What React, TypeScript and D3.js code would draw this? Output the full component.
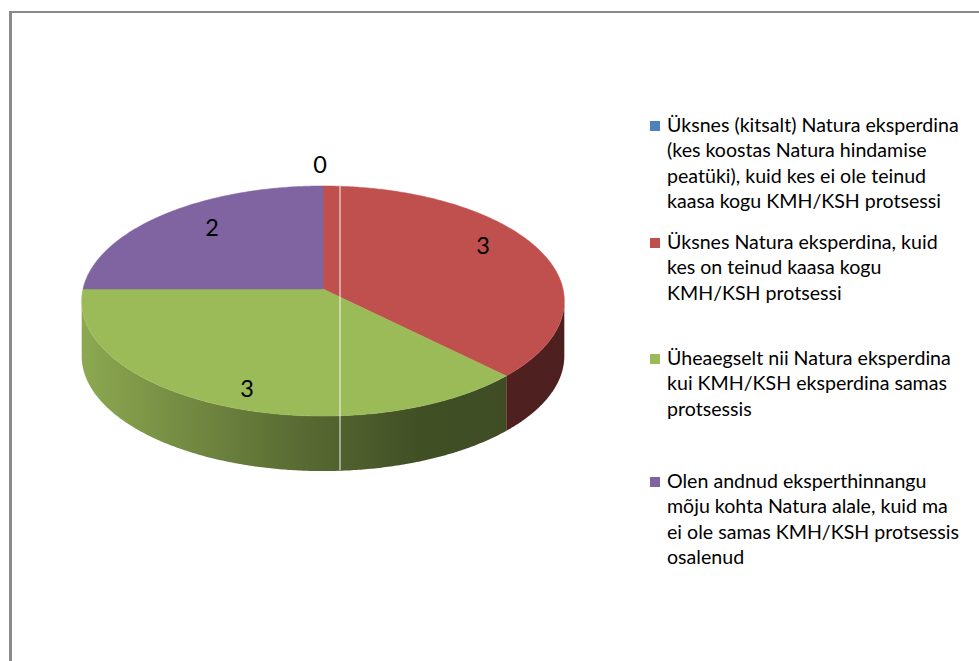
import React from "react";
import * as d3 from "d3";

const categories: string[][] = [
  ["Üksnes (kitsalt) Natura eksperdina", "(kes koostas Natura hindamise", "peatüki), kuid kes ei ole teinud", "kaasa kogu KMH/KSH protsessi"],
  ["Üksnes Natura eksperdina, kuid", "kes on teinud kaasa kogu", "KMH/KSH protsessi"],
  ["Üheaegselt nii Natura eksperdina", "kui KMH/KSH eksperdina samas", "protsessis"],
  ["Olen andnud eksperthinnangu", "mõju kohta Natura alale, kuid ma", "ei ole samas KMH/KSH protsessis", "osalenud"],
];
const values: number[] = [0, 3, 3, 2];
const colors: string[] = ["#4f81bd", "#c0504d", "#9bbb59", "#8064a2"];
const legendCenters: number[] = [126, 243, 359, 482];

const W = 979, H = 661;
const cx = 323, cy = 289, rx = 240, ry = 113.8, persp = 0.1044, depth = 55;
const FONT = "Lato, 'Open Sans', sans-serif";

function proj(theta: number): [number, number] {
  const u = Math.sin(theta), v = -Math.cos(theta);
  const k = 1 / (1 - persp * v);
  return [cx + rx * u * k, cy + ry * v * k];
}

function shade(c: string, f: number) {
  const r = d3.rgb(c);
  return d3.rgb(r.r * f, r.g * f, r.b * f).formatHex();
}

export default function App() {
  const pie = d3.pie<number>().sort(null).value((d) => d)(values);
  const line = d3.line<[number, number]>();
  const step = Math.PI / 360;
  const visA = Math.acos(-persp);
  const visB = 2 * Math.PI - Math.acos(-persp);

  const tops: { path: string; color: string }[] = [];
  const walls: { path: string; idx: number }[] = [];
  pie.forEach((arc, i) => {
    if (arc.endAngle - arc.startAngle <= 0) return;
    const pts: [number, number][] = [[cx, cy]];
    const n = Math.max(2, Math.ceil((arc.endAngle - arc.startAngle) / step));
    for (let j = 0; j <= n; j++) {
      const t = arc.startAngle + ((arc.endAngle - arc.startAngle) * j) / n;
      pts.push(proj(t));
    }
    tops.push({ path: line(pts) + "Z", color: colors[i] });
    const a0 = Math.max(arc.startAngle, visA), a1 = Math.min(arc.endAngle, visB);
    if (a1 > a0) {
      const m = Math.max(2, Math.ceil((a1 - a0) / step));
      const topArc: [number, number][] = [];
      for (let j = 0; j <= m; j++) topArc.push(proj(a0 + ((a1 - a0) * j) / m));
      const bot = topArc.map((p) => [p[0], p[1] + depth] as [number, number]).reverse();
      walls.push({ path: line(topArc.concat(bot)) + "Z", idx: i });
    }
  });

  const labelPos: { x: number; y: number; text: string }[] = [
    { x: 320, y: 164, text: String(values[0]) },
    { x: 483, y: 245, text: String(values[1]) },
    { x: 247, y: 388, text: String(values[2]) },
    { x: 212, y: 227, text: String(values[3]) },
  ];

  return (
    <svg width={W} height={H} style={{ position: "absolute", left: 0, top: 0, background: "#fff" }}>
      <defs>
        {colors.map((c, i) => (
          <linearGradient key={i} id={"g" + i} gradientUnits="userSpaceOnUse" x1={cx - rx} x2={cx + rx} y1={0} y2={0}>
            <stop offset="0" stopColor={shade(c, 0.9)} />
            <stop offset="0.41" stopColor={shade(c, 0.6)} />
            <stop offset="0.70" stopColor={shade(c, 0.42)} />
            <stop offset="1" stopColor={shade(c, 0.40)} />
          </linearGradient>
        ))}
      </defs>
      <rect x={0} y={0} width={W} height={H} fill="#fff" />
      <line x1={10} y1={12} x2={W} y2={12} stroke="#8a8a8a" strokeWidth={2} />
      <line x1={10.5} y1={11} x2={10.5} y2={H} stroke="#8a8a8a" strokeWidth={3} />
      {walls.map((w, i) => (
        <path key={"w" + i} d={w.path} fill={`url(#g${w.idx})`} />
      ))}
      {tops.map((t, i) => (
        <path key={"t" + i} d={t.path} fill={t.color} stroke={t.color} strokeWidth={0.5} />
      ))}
      <line x1={340} y1={186} x2={340} y2={470} stroke="#f4f4f4" strokeWidth={1} />
      {labelPos.map((l, i) => (
        <text key={"l" + i} x={l.x} y={l.y} fontFamily={FONT} fontSize={23.5} textAnchor="middle" dominantBaseline="central" fill="#000">
          {l.text}
        </text>
      ))}
      {categories.map((lines, i) => (
        <g key={"lg" + i}>
          <rect x={650} y={legendCenters[i] - 5} width={10} height={10} fill={colors[i]} />
          {lines.map((ln, j) => (
            <text key={j} x={667} y={legendCenters[i] + j * 25.3 + 6} fontFamily={FONT} fontSize={19.6} fill="#000">
              {ln}
            </text>
          ))}
        </g>
      ))}
    </svg>
  );
}
